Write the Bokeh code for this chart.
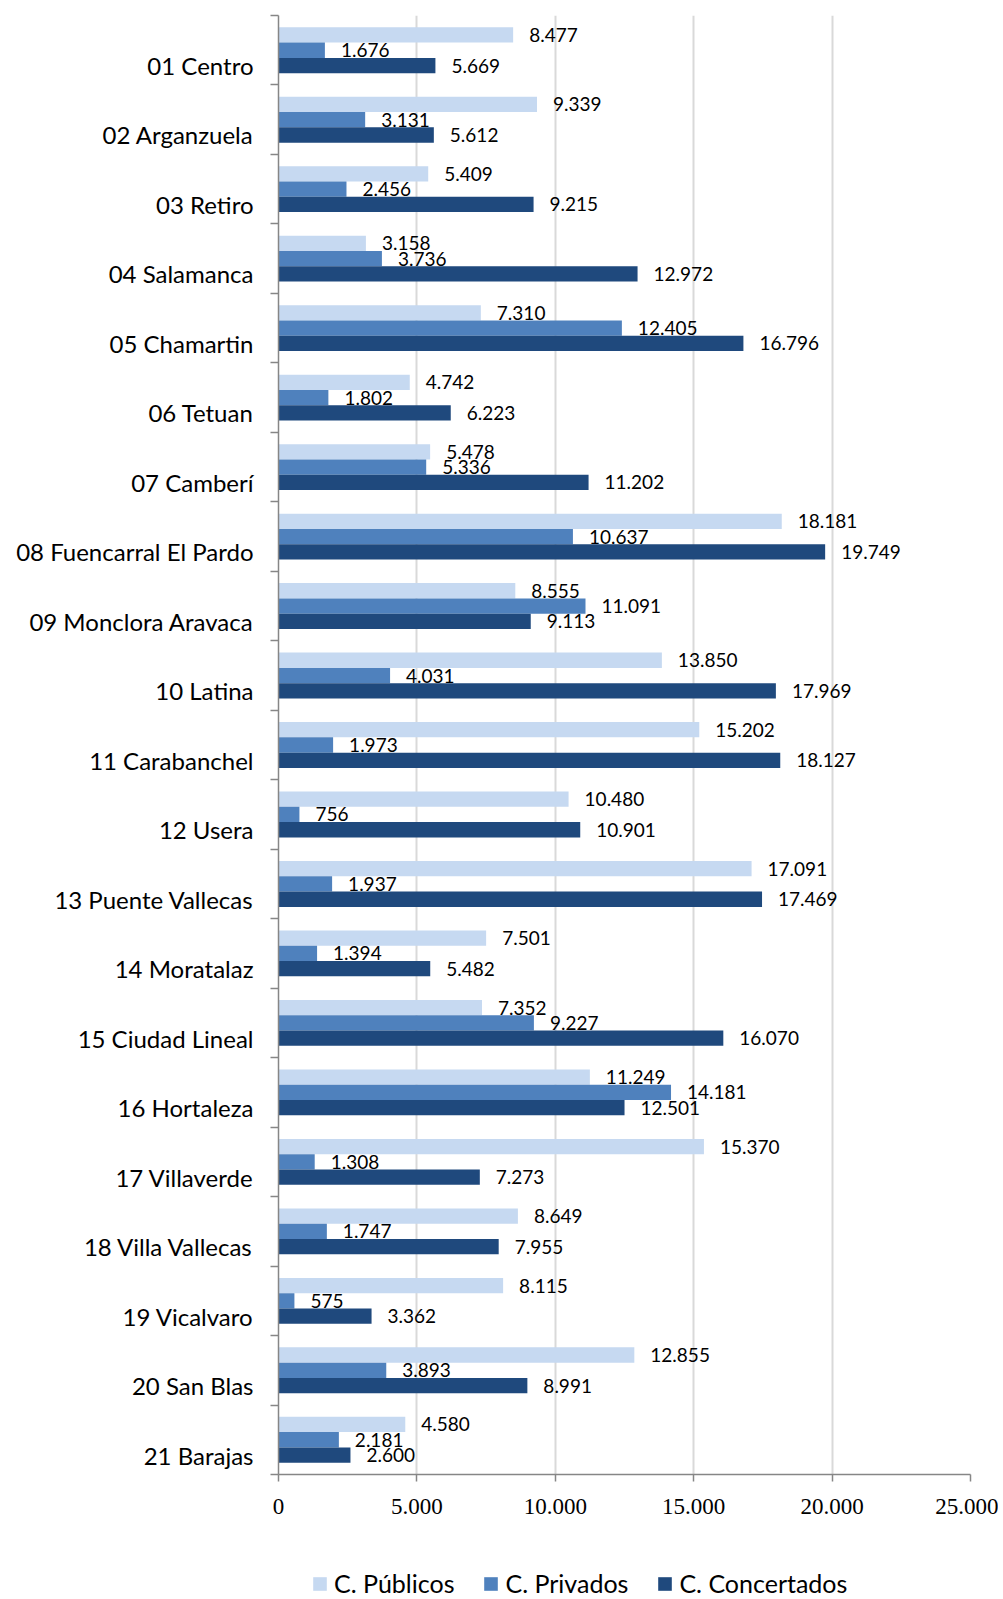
from bokeh.plotting import figure
from bokeh.models import ColumnDataSource, Range1d, FixedTicker, Legend, LegendItem
from bokeh.layouts import column
from bokeh.transform import dodge
from bokeh.core.properties import value
from bokeh.embed import file_html
from bokeh.resources import INLINE

categories = ["01 Centro", "02 Arganzuela", "03 Retiro", "04 Salamanca", "05 Chamartin",
              "06 Tetuan", "07 Camberí", "08 Fuencarral El Pardo", "09 Monclora Aravaca",
              "10 Latina", "11 Carabanchel", "12 Usera", "13 Puente Vallecas", "14 Moratalaz",
              "15 Ciudad Lineal", "16 Hortaleza", "17 Villaverde", "18 Villa Vallecas",
              "19 Vicalvaro", "20 San Blas", "21 Barajas"]
publicos = [8477, 9339, 5409, 3158, 7310, 4742, 5478, 18181, 8555, 13850, 15202, 10480,
            17091, 7501, 7352, 11249, 15370, 8649, 8115, 12855, 4580]
privados = [1676, 3131, 2456, 3736, 12405, 1802, 5336, 10637, 11091, 4031, 1973, 756,
            1937, 1394, 9227, 14181, 1308, 1747, 575, 3893, 2181]
concertados = [5669, 5612, 9215, 12972, 16796, 6223, 11202, 19749, 9113, 17969, 18127, 10901,
               17469, 5482, 16070, 12501, 7273, 7955, 3362, 8991, 2600]
series_names = ["C. Públicos", "C. Privados", "C. Concertados"]
x_ticks = [0, 5000, 10000, 15000, 20000, 25000]

colors = ["#C6D9F1", "#4F81BD", "#1F497D"]


def fmt(v):
    return f"{v:,}".replace(",", ".")


n = len(categories)
ypos = [n - 0.5 - i for i in range(n)]
off = 0.22
bh = 0.22
label_pos = [y - off for y in ypos]

src = ColumnDataSource(dict(
    y=ypos, cat=categories,
    pub=publicos, pri=privados, con=concertados,
    pub_l=[fmt(v) for v in publicos],
    pri_l=[fmt(v) for v in privados],
    con_l=[fmt(v) for v in concertados],
))

W = 998
p = figure(width=W, height=1531, x_range=Range1d(0, 25000), y_range=Range1d(0, n),
           output_backend="svg", toolbar_location=None,
           min_border_left=278, min_border_right=28, min_border_top=15, min_border_bottom=57)
p.outline_line_color = None
p.background_fill_color = "white"

for col, o, c in zip(["pub", "pri", "con"], [off, 0, -off], colors):
    p.hbar(y=dodge("y", o, range=p.y_range), right=col, left=0, height=bh,
           fill_color=c, line_color=None, source=src)

for col, o in zip(["pub_l", "pri_l", "con_l"], [off, 0, -off]):
    xcol = col[:3]
    p.text(x=xcol, y=dodge("y", o, range=p.y_range), text=col, source=src,
           x_offset=16, text_baseline="middle", text_align="left",
           text_font=value("Lato"), text_font_size="19px", text_color="black")

axis_col = "#868686"

# x axis
xa = p.xaxis[0]
xa.ticker = FixedTicker(ticks=x_ticks)
xa.major_label_overrides = {t: fmt(t) for t in x_ticks}
xa.major_tick_out = 7
xa.major_tick_in = 0
xa.minor_tick_out = 0
xa.minor_tick_in = 0
xa.axis_line_color = axis_col
xa.axis_line_width = 1.5
xa.major_tick_line_color = axis_col
xa.major_tick_line_width = 1.5
xa.major_label_standoff = 17
xa.major_label_text_font = "Liberation Sans Narrow"
xa.major_label_text_font_size = "23px"
xa.major_label_text_color = "black"

# y axis
ya = p.yaxis[0]
ya.ticker = FixedTicker(ticks=label_pos, minor_ticks=list(range(n + 1)))
ya.major_label_overrides = {y: c for y, c in zip(label_pos, categories)}
ya.major_tick_out = 0
ya.major_tick_in = 0
ya.minor_tick_out = 8
ya.minor_tick_in = 0
ya.minor_tick_line_color = axis_col
ya.minor_tick_line_width = 1.5
ya.axis_line_color = axis_col
ya.axis_line_width = 1.5
ya.major_label_standoff = 17
ya.major_label_text_font = "Lato"
ya.major_label_text_font_size = "24px"
ya.major_label_text_color = "black"

p.xgrid.ticker = FixedTicker(ticks=x_ticks)
p.xgrid.grid_line_color = "#D9D9D9"
p.xgrid.grid_line_width = 2
p.ygrid.grid_line_color = None

# legend strip below the chart (its renderers are hidden; only their legend swatches show)
pl = figure(width=W, height=68, x_range=Range1d(0, 1), y_range=Range1d(0, 1),
            output_backend="svg", toolbar_location=None,
            x_axis_type=None, y_axis_type=None,
            min_border_left=0, min_border_right=0, min_border_top=0, min_border_bottom=0)
pl.outline_line_color = None
pl.xgrid.grid_line_color = None
pl.ygrid.grid_line_color = None
leg_renderers = []
for col, c in zip(["pub", "pri", "con"], colors):
    r = pl.hbar(y="y", right=col, left=0, height=bh, fill_color=c, line_color=None,
                source=src, visible=False)
    leg_renderers.append(r)

legend = Legend(items=[LegendItem(label=nm, renderers=[r]) for nm, r in zip(series_names, leg_renderers)],
                orientation="horizontal", location=(33, 1),
                border_line_color=None, background_fill_alpha=0,
                padding=0, margin=0, spacing=28, label_standoff=6,
                glyph_width=17, glyph_height=17,
                label_text_font="Lato", label_text_font_size="25px",
                label_text_color="black")
pl.add_layout(legend, "center")

layout = column(p, pl, spacing=0)
open("out.html", "w").write(file_html(layout, INLINE))
